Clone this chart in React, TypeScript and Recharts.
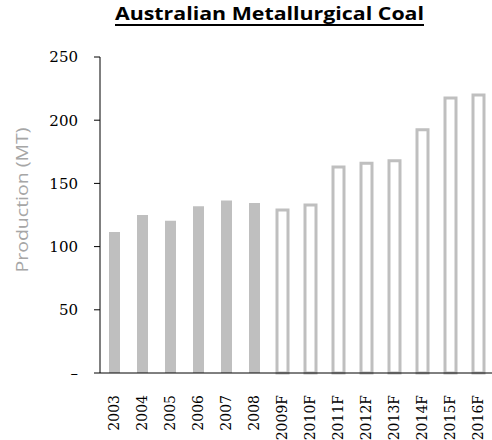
import React from "react";
import { BarChart, Bar, XAxis, YAxis, Cell } from "recharts";

const years = [
  "2003", "2004", "2005", "2006", "2007", "2008", "2009F",
  "2010F", "2011F", "2012F", "2013F", "2014F", "2015F", "2016F",
];
const production = [111.5, 125, 120.5, 132, 136.5, 134.5, 129, 133, 163, 166, 168, 192.5, 217.5, 220];
const yTicks = [0, 50, 100, 150, 200, 250];

const data = years.map((year, i) => ({ year, value: production[i] }));

const GREY = "#bfbfbf";
const NUM_FONT = "'DejaVu Serif', serif";

const YearTick = (props: any) => {
  const { x, y, payload } = props;
  return (
    <text
      transform={`translate(${x + 5},${y + 14}) rotate(-90)`}
      textAnchor="end"
      fontFamily={NUM_FONT}
      fontSize={14}
      fill="#000"
    >
      {payload.value}
    </text>
  );
};

export default function App() {
  return (
    <div style={{ position: "absolute", left: 0, top: 0, width: 492, height: 440, background: "#fff" }}>
      <svg width={492} height={440} style={{ position: "absolute", left: 0, top: 0 }}>
        <text
          x={115}
          y={20}
          textLength={309}
          lengthAdjust="spacingAndGlyphs"
          fontFamily="'Open Sans', sans-serif"
          fontWeight="bold"
          fontSize={18}
          fill="#000"
        >
          Australian Metallurgical Coal
        </text>
        <line x1={115} x2={424} y1={25} y2={25} stroke="#000" strokeWidth={2} />
        <text
          transform="translate(28,200) rotate(-90)"
          textAnchor="middle"
          textLength={145}
          lengthAdjust="spacingAndGlyphs"
          fontFamily="'Open Sans', sans-serif"
          fontSize={16}
          fill="#a6a6a6"
        >
          Production (MT)
        </text>
      </svg>
      <div style={{ position: "absolute", left: 0, top: 0 }}>
        <BarChart width={492} height={440} data={data} margin={{ top: 57, right: 0, bottom: 0, left: 0 }}>
          <YAxis
            width={100}
            domain={[0, 250]}
            ticks={yTicks}
            interval={0}
            tickSize={6}
            tickMargin={16}
            axisLine={{ stroke: "#000" }}
            tickLine={{ stroke: "#000" }}
            tickFormatter={(v: number) => (v === 0 ? "–" : String(v))}
            tick={{ fontFamily: NUM_FONT, fontSize: 15, fill: "#000" }}
          />
          <XAxis
            dataKey="year"
            height={67}
            interval={0}
            tickLine={false}
            axisLine={{ stroke: "#000" }}
            tick={<YearTick />}
          />
          <Bar dataKey="value" barSize={11} isAnimationActive={false}>
            {data.map((d) =>
              d.year.endsWith("F") ? (
                <Cell key={d.year} fill="#fff" stroke={GREY} strokeWidth={3} />
              ) : (
                <Cell key={d.year} fill={GREY} />
              )
            )}
          </Bar>
        </BarChart>
      </div>
    </div>
  );
}
